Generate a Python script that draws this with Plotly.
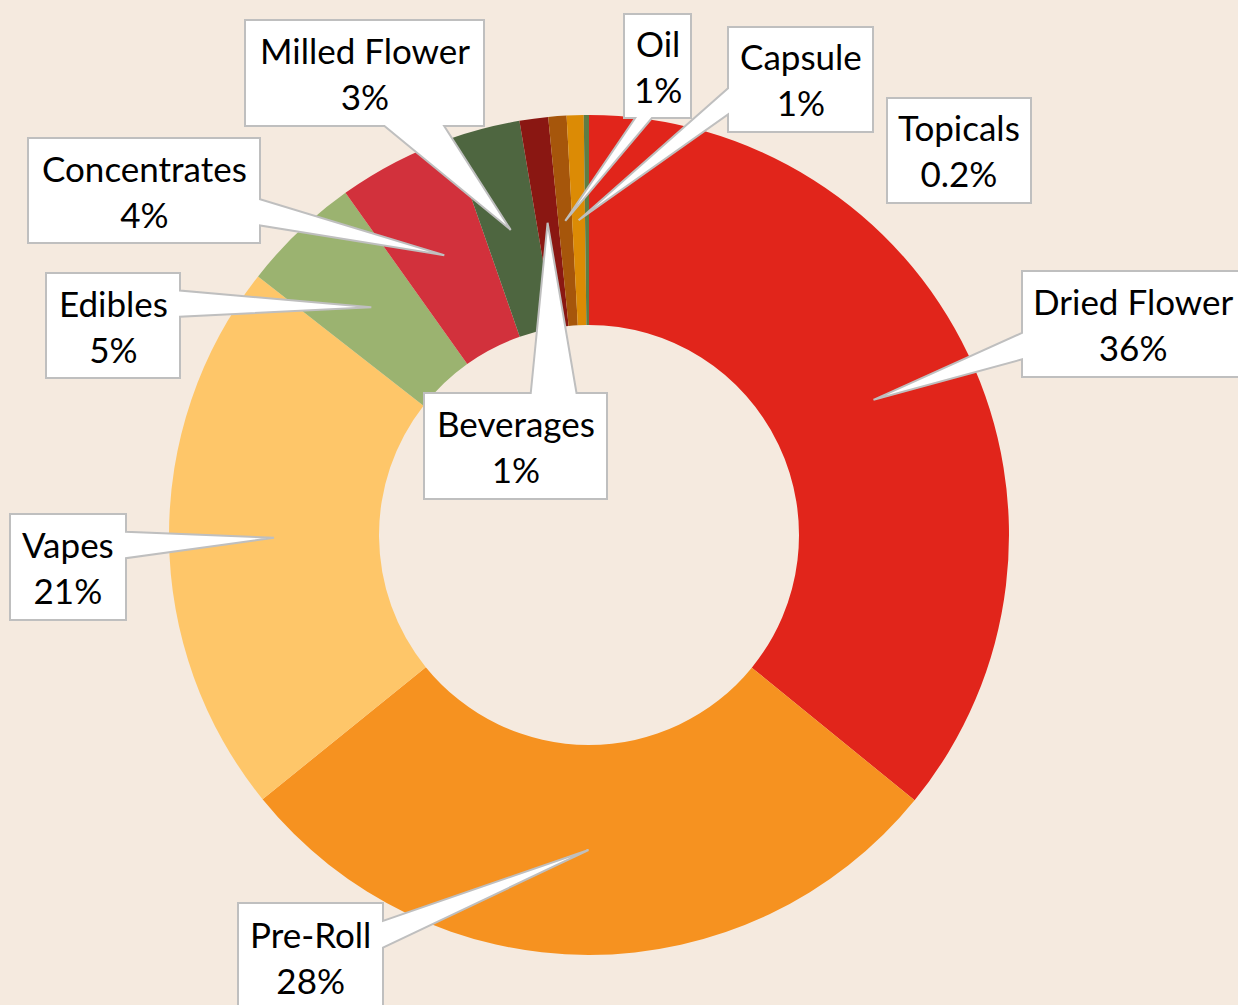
import math
import plotly.graph_objects as go

# ---- data ----
categories = ["Dried Flower", "Pre-Roll", "Vapes", "Edibles", "Concentrates",
              "Milled Flower", "Beverages", "Oil", "Capsule", "Topicals"]
shares = [35.9, 28.3, 21.4, 4.6, 4.5, 2.7, 1.1, 0.7, 0.65, 0.2]
share_labels = ["36%", "28%", "21%", "5%", "4%", "3%", "1%", "1%", "1%", "0.2%"]

# ---- style / layout ----
colors = ["#E1251B", "#F69220", "#FEC669", "#9BB370", "#D2313C",
          "#4E6640", "#8A1712", "#A6560B", "#DC8B05", "#5E7D45"]
W, H = 1238, 1005
BG = "#F5EADF"
CX, CY, R_OUT = 589, 535, 420
HOLE = 0.5
TIP_R = 0.75 * R_OUT

# callout boxes in pixels (left, top, right, bottom) and whether a pointer is drawn
boxes = {
    "Dried Flower": (1022, 271, 1246, 377, True),
    "Pre-Roll": (238, 903, 383, 1010, True),
    "Vapes": (10, 514, 126, 620, True),
    "Edibles": (46, 273, 180, 378, True),
    "Concentrates": (28, 138, 260, 243, True),
    "Milled Flower": (245, 20, 484, 126, True),
    "Beverages": (424, 393, 607, 499, True),
    "Oil": (624, 14, 691, 118, True),
    "Capsule": (728, 27, 873, 132, True),
    "Topicals": (887, 98, 1031, 203, False),
}
# text centre overrides (pixels) where the text is not centred in its box
text_centre = {"Dried Flower": (1133, 324)}
FONT = dict(family="Lato, Calibri, sans-serif", size=35, color="black")


def px(x, y):
    return x / W, 1 - y / H


def callout_path(l, t, r, b, tip):
    pts = []
    w, h = r - l, b - t
    side = None
    if tip is not None:
        dx = tip[0] - (l + r) / 2
        dy = tip[1] - (t + b) / 2
        if abs(dx) / w > abs(dy) / h:
            side = "left" if dx < 0 else "right"
            f1, f2 = (2 / 12, 5 / 12) if dy < 0 else (7 / 12, 10 / 12)
            y1, y2 = t + h * f1, t + h * f2
        else:
            side = "top" if dy < 0 else "bottom"
            f1, f2 = (2 / 12, 5 / 12) if dx < 0 else (7 / 12, 10 / 12)
            x1, x2 = l + w * f1, l + w * f2
    pts.append((l, t))
    if side == "top":
        pts += [(x1, t), tip, (x2, t)]
    pts.append((r, t))
    if side == "right":
        pts += [(r, y1), tip, (r, y2)]
    pts.append((r, b))
    if side == "bottom":
        pts += [(x2, b), tip, (x1, b)]
    pts.append((l, b))
    if side == "left":
        pts += [(l, y2), tip, (l, y1)]
    segs = []
    for i, (x, y) in enumerate(pts):
        X, Y = px(x, y)
        segs.append(("M" if i == 0 else "L") + f"{X:.5f},{Y:.5f}")
    return " ".join(segs) + " Z"


fig = go.Figure()
dx0, dy0 = px(CX - R_OUT, CY + R_OUT)
dx1, dy1 = px(CX + R_OUT, CY - R_OUT)
fig.add_trace(go.Pie(
    labels=categories, values=shares, sort=False, direction="clockwise",
    rotation=0, hole=HOLE, textinfo="none", hoverinfo="label+percent",
    marker=dict(colors=colors, line=dict(width=0)),
    domain=dict(x=[dx0, dx1], y=[dy0, dy1]), showlegend=False,
))

total = sum(shares)
cum = 0.0
shapes, annotations = [], []
for cat, v, lab in zip(categories, shares, share_labels):
    mid = (cum + v / 2) / total * 2 * math.pi
    cum += v
    tip = (CX + TIP_R * math.sin(mid), CY - TIP_R * math.cos(mid))
    l, t, r, b, show = boxes[cat]
    shapes.append(dict(type="path", xref="paper", yref="paper",
                       path=callout_path(l, t, r, b, tip if show else None),
                       fillcolor="white", line=dict(color="#BFBFBF", width=2),
                       layer="above"))
    tx, ty = text_centre.get(cat, ((l + r) / 2, (t + b) / 2))
    ax, ay = px(tx, ty)
    annotations.append(dict(x=ax, y=ay, xref="paper", yref="paper",
                            xanchor="center", yanchor="middle",
                            text=f"{cat}<br>{lab}", showarrow=False,
                            font=FONT, align="center"))

fig.update_layout(
    width=W, height=H, margin=dict(l=0, r=0, t=0, b=0),
    paper_bgcolor=BG, plot_bgcolor=BG,
    shapes=shapes, annotations=annotations,
)
fig.write_html("out.html",
               config={"displayModeBar": False},
               post_script="document.body.style.margin='0';"
                           "document.body.style.overflow='hidden';")
